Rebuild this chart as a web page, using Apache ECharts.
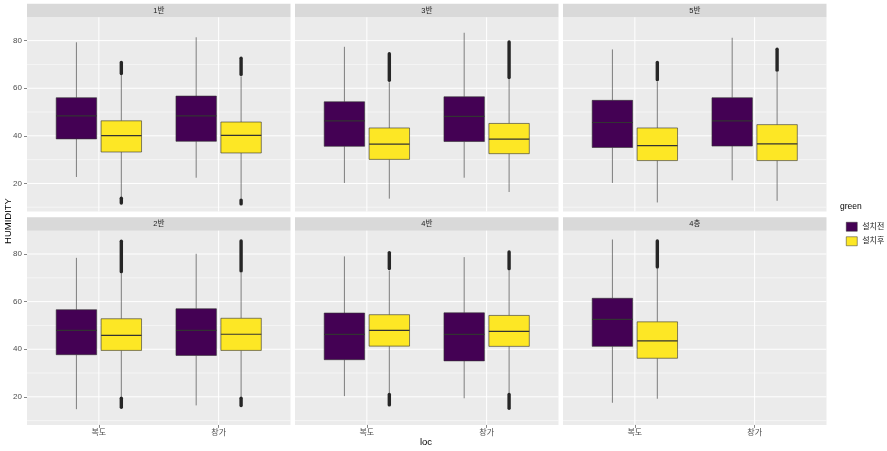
<!DOCTYPE html>
<html><head><meta charset="utf-8">
<script src="https://cdn.jsdelivr.net/npm/echarts@6/dist/echarts.min.js"></script>
<style>html,body{margin:0;padding:0;background:#fff}#c{width:887px;height:451px}</style>
</head><body><div id="c"></div>
<script>
// ---- data ----
const panels = ['1반','3반','5반','2반','4반','4층'];
const locs = ['복도','창가'];
const groups = ['설치전','설치후'];
const yMajor = [20,40,60,80];
const yMinor = [10,30,50,70];
// [lower whisker, Q1, median, Q3, upper whisker], per loc (복도, 창가)
const class1Before = [[22.7,38.7,48.4,56.0,79.3],[22.4,37.7,48.4,56.7,81.4]];
const class1After  = [[14.0,33.2,40.1,46.3,65.5],[13.5,32.8,40.2,45.8,65.0]];
const class3Before = [[20.2,35.6,46.3,54.3,77.4],[22.4,37.6,48.2,56.4,83.3]];
const class3After  = [[13.6,30.1,36.5,43.3,62.5],[16.4,32.5,38.6,45.2,63.8]];
const class5Before = [[20.2,35.1,45.6,54.9,76.3],[21.3,35.7,46.3,56.0,81.2]];
const class5After  = [[12.0,29.6,35.9,43.3,62.8],[12.7,29.6,36.6,44.7,66.8]];
const class2Before = [[14.8,37.7,47.9,56.6,78.4],[16.4,37.4,47.9,57.0,80.1]];
const class2After  = [[20.0,39.5,45.8,52.8,72.0],[20.0,39.5,46.3,53.0,72.2]];
const class4Before = [[20.3,35.6,46.2,55.2,79.0],[19.4,35.1,46.2,55.3,78.7]];
const class4After  = [[21.6,41.3,47.9,54.5,73.0],[21.5,41.2,47.5,54.2,73.0]];
const floor4Before = [[17.5,41.2,52.5,61.4,86.1],null];
const floor4After  = [[19.2,36.2,43.5,51.5,73.8],null];
// outlier ranges [low, high] per loc
const class1BeforeOut = [[],[]];
const class1AfterOut  = [[[11.8,13.8],[66.2,70.8]],[[11.4,13.0],[65.8,72.6]]];
const class3BeforeOut = [[],[]];
const class3AfterOut  = [[[63.3,74.5]],[[64.5,79.4]]];
const class5BeforeOut = [[],[]];
const class5AfterOut  = [[[63.6,70.8]],[[67.6,76.4]]];
const class2BeforeOut = [[],[]];
const class2AfterOut  = [[[15.6,19.4],[72.6,85.4]],[[16.3,19.4],[72.9,85.5]]];
const class4BeforeOut = [[],[]];
const class4AfterOut  = [[[16.6,21.0],[73.9,80.6]],[[15.2,21.0],[73.8,80.9]]];
const floor4BeforeOut = [[],[]];
const floor4AfterOut  = [[[74.5,85.5]],[]];

const panelStats = [
  [class1Before, class1After, class1BeforeOut, class1AfterOut],
  [class3Before, class3After, class3BeforeOut, class3AfterOut],
  [class5Before, class5After, class5BeforeOut, class5AfterOut],
  [class2Before, class2After, class2BeforeOut, class2AfterOut],
  [class4Before, class4After, class4BeforeOut, class4AfterOut],
  [floor4Before, floor4After, floor4BeforeOut, floor4AfterOut]
];

// ---- style / layout ----
const colors = ['#440154','#FDE725'];
const FONT = '"Liberation Sans","Noto Sans CJK KR",sans-serif';
const colLeft = [27, 295, 563];
const rowTop = [17.3, 230.7];
const gw = 263.5, gh = 194.2, stripH = 13.5;
const yMin = 8.2, yMax = 89.8, xMin = 0.4, xMax = 2.6;
const dodge = 0.1875, boxW = 0.3375;

const grids = [], xAxes = [], yAxes = [], series = [], graphics = [];

panels.forEach((p, i) => {
  const col = i % 3, row = Math.floor(i / 3);
  const left = colLeft[col], top = rowTop[row];
  grids.push({left: left, top: top, width: gw, height: gh, show: true,
    backgroundColor: '#EBEBEB', borderWidth: 0, containLabel: false});
  xAxes.push({type: 'value', gridIndex: i, min: xMin, max: xMax,
    axisLine: {show: false}, splitLine: {show: false},
    axisTick: {show: row === 1, length: 3, customValues: [1, 2], lineStyle: {color: '#333', width: 0.6}},
    axisLabel: {show: row === 1, customValues: [1, 2], margin: 4, fontSize: 8, color: '#4D4D4D', fontFamily: FONT,
      formatter: v => locs[Math.round(v) - 1]}});
  yAxes.push({type: 'value', gridIndex: i, min: yMin, max: yMax,
    axisLine: {show: false}, splitLine: {show: false},
    axisTick: {show: col === 0, length: 3, customValues: yMajor, lineStyle: {color: '#333', width: 0.6}},
    axisLabel: {show: col === 0, customValues: yMajor, margin: 5, fontSize: 8, color: '#4D4D4D', fontFamily: FONT}});
  // gridlines
  const gl = [];
  yMinor.forEach(v => gl.push([0, v]));
  yMajor.forEach(v => gl.push([1, v]));
  locs.forEach((l, k) => gl.push([2, k + 1]));
  series.push({type: 'custom', xAxisIndex: i, yAxisIndex: i, silent: true, z: 1, data: gl,
    renderItem: (params, api) => {
      const kind = api.value(0), v = api.value(1);
      let a, b;
      if (kind === 2) { a = api.coord([v, yMin]); b = api.coord([v, yMax]); }
      else { a = api.coord([xMin, v]); b = api.coord([xMax, v]); }
      return {type: 'line', shape: {x1: a[0], y1: a[1], x2: b[0], y2: b[1]},
        style: {stroke: '#FFFFFF', lineWidth: kind === 0 ? 0.5 : 1}};
    }});
  // boxes
  const st = panelStats[i];
  groups.forEach((g, gi) => {
    const stats = st[gi], outs = st[gi + 2];
    const data = [];
    locs.forEach((l, li) => {
      if (!stats[li]) return;
      const s = stats[li];
      const xc = li + 1 + (gi === 0 ? -dodge : dodge);
      const o = outs[li] || [];
      const row = [xc, s[0], s[1], s[2], s[3], s[4]];
      o.forEach(r => { row.push(r[0], r[1]); });
      while (row.length < 10) row.push(NaN);
      data.push(row);
    });
    series.push({type: 'custom', name: g, xAxisIndex: i, yAxisIndex: i, z: 2,
      itemStyle: {color: colors[gi]},
      data: data,
      renderItem: (params, api) => {
        const xc = api.value(0);
        const hw = api.size([boxW, 0])[0] / 2;
        const pLo = api.coord([xc, api.value(1)]), pQ1 = api.coord([xc, api.value(2)]);
        const pMed = api.coord([xc, api.value(3)]), pQ3 = api.coord([xc, api.value(4)]);
        const pHi = api.coord([xc, api.value(5)]);
        const ch = [];
        ch.push({type: 'line', shape: {x1: pLo[0], y1: pLo[1], x2: pQ1[0], y2: pQ1[1]}, style: {stroke: '#333', lineWidth: 0.6}});
        ch.push({type: 'line', shape: {x1: pQ3[0], y1: pQ3[1], x2: pHi[0], y2: pHi[1]}, style: {stroke: '#333', lineWidth: 0.6}});
        for (let k = 6; k < 10; k += 2) {
          const a = api.value(k), b = api.value(k + 1);
          if (isNaN(a) || isNaN(b)) continue;
          const pa = api.coord([xc, a]), pb = api.coord([xc, b]);
          ch.push({type: 'line', shape: {x1: pa[0], y1: pa[1], x2: pb[0], y2: pb[1]},
            style: {stroke: '#262626', lineWidth: 3.4, lineCap: 'round'}});
        }
        ch.push({type: 'rect', shape: {x: pQ3[0] - hw, y: pQ3[1], width: 2 * hw, height: pQ1[1] - pQ3[1]},
          style: {fill: colors[gi], stroke: '#333', lineWidth: 0.6}});
        ch.push({type: 'line', shape: {x1: pMed[0] - hw, y1: pMed[1], x2: pMed[0] + hw, y2: pMed[1]},
          style: {stroke: '#333', lineWidth: 1.2}});
        return {type: 'group', children: ch};
      }});
  });
  // strip
  graphics.push({type: 'rect', left: left, top: top - stripH, shape: {width: gw, height: stripH},
    style: {fill: '#D9D9D9'}, silent: true});
  graphics.push({type: 'text', x: left + gw / 2, y: top - stripH / 2,
    style: {text: p, fill: '#1A1A1A', fontSize: 7.5, fontFamily: FONT, align: 'center', verticalAlign: 'middle'}});
});

graphics.push({type: 'text', x: 8, y: 221, rotation: Math.PI / 2,
  style: {text: 'HUMIDITY', fill: '#000', fontSize: 9.5, fontFamily: FONT, align: 'center', verticalAlign: 'middle'}});
graphics.push({type: 'text', x: 426, y: 442,
  style: {text: 'loc', fill: '#000', fontSize: 9.5, fontFamily: FONT, align: 'center', verticalAlign: 'middle'}});
graphics.push({type: 'text', x: 840, y: 207,
  style: {text: 'green', fill: '#000', fontSize: 8.5, fontFamily: FONT, align: 'left', verticalAlign: 'middle'}});

const chart = echarts.init(document.getElementById('c'), null, {renderer: 'canvas'});
chart.setOption({
  backgroundColor: '#FFFFFF',
  animation: false,
  grid: grids, xAxis: xAxes, yAxis: yAxes, series: series,
  legend: {orient: 'vertical', left: 841, top: 217, itemWidth: 11, itemHeight: 9, itemGap: 5,
    icon: 'rect', selectedMode: false,
    textStyle: {fontSize: 8, color: '#1A1A1A', fontFamily: FONT},
    data: groups.map((g, gi) => ({name: g, itemStyle: {color: colors[gi], borderColor: '#333', borderWidth: 0.5}}))},
  graphic: graphics
});
</script></body></html>
